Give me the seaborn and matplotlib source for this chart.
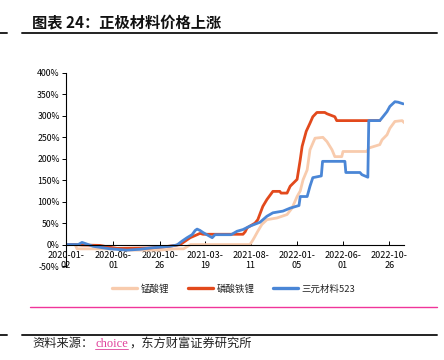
import matplotlib
matplotlib.use("Agg")
import matplotlib.pyplot as plt
import seaborn as sns
import pandas as pd
from matplotlib.lines import Line2D

sns.set_style("white")
plt.rcParams['font.family'] = ['Noto Sans CJK SC', 'DejaVu Sans']
plt.rcParams['axes.unicode_minus'] = False

# ---- data (percent change) ----
mn_dates = ["2020-01-02", "2020-01-31", "2020-02-06", "2020-06-12", "2020-07-14", "2020-10-27",
            "2020-12-14", "2021-01-10", "2021-02-01", "2021-08-09", "2021-08-18", "2021-08-25",
            "2021-09-03", "2021-09-16", "2021-10-02", "2021-11-03", "2021-12-05", "2021-12-21",
            "2022-01-06", "2022-01-16", "2022-01-25", "2022-02-07", "2022-02-16", "2022-03-04",
            "2022-03-29", "2022-04-11", "2022-04-27", "2022-05-06", "2022-05-28", "2022-06-01",
            "2022-08-16", "2022-08-22", "2022-09-26", "2022-10-03", "2022-10-19", "2022-10-28",
            "2022-11-13", "2022-12-06", "2022-12-13"]
mn_vals = [0, 0, -10, -10, -13, -13,
           -10, -10, 0, 0, 10, 19,
           31, 47, 58, 62, 70, 85,
           112, 125, 151, 174, 221, 248,
           250, 240, 221, 205, 205, 217,
           217, 225, 233, 244, 256, 271,
           287, 289, 284]

lfp_dates = ["2020-01-02", "2020-01-31", "2020-02-22", "2020-04-19", "2020-05-11", "2020-06-12",
             "2020-09-25", "2020-11-12", "2020-12-14", "2020-12-30", "2021-01-15", "2021-01-31",
             "2021-02-22", "2021-03-03", "2021-03-13", "2021-07-18", "2021-07-25", "2021-07-31",
             "2021-08-25", "2021-09-03", "2021-09-19", "2021-10-02", "2021-10-21", "2021-11-12",
             "2021-11-16", "2021-12-05", "2021-12-15", "2022-01-06", "2022-01-16", "2022-01-22",
             "2022-02-04", "2022-02-16", "2022-02-25", "2022-03-10", "2022-04-04", "2022-04-11",
             "2022-05-06", "2022-05-12", "2022-09-26"]
lfp_vals = [0, 0, -1, -2, -5, -9,
            -8, -5, -2, 0, 8, 16,
            23, 26, 24, 24, 30, 39,
            50, 58, 89, 105, 124, 124,
            120, 120, 136, 152, 198, 229,
            264, 283, 298, 308, 308, 305,
            298, 289, 289]

ncm_dates = ["2020-01-02", "2020-02-10", "2020-02-22", "2020-03-05", "2020-03-28", "2020-05-21",
             "2020-07-14", "2020-08-24", "2020-09-25", "2020-11-28", "2020-12-20", "2021-01-05",
             "2021-01-21", "2021-02-06", "2021-02-16", "2021-02-22", "2021-03-03", "2021-03-13",
             "2021-04-11", "2021-04-20", "2021-06-10", "2021-06-29", "2021-07-18", "2021-08-09",
             "2021-09-10", "2021-10-02", "2021-10-21", "2021-11-22", "2021-12-15", "2022-01-12",
             "2022-01-16", "2022-02-07", "2022-02-16", "2022-02-25", "2022-03-24", "2022-03-28",
             "2022-06-07", "2022-06-10", "2022-07-25", "2022-07-31", "2022-08-19", "2022-08-22",
             "2022-09-26", "2022-10-06", "2022-10-19", "2022-10-28", "2022-11-13", "2022-11-23",
             "2022-12-10"]
ncm_vals = [0, 0, 5, 2, -4, -10,
            -13, -11, -8, -4, -1, 8,
            16, 23, 33, 36, 33, 28,
            16, 23, 23, 31, 35, 43,
            52, 66, 74, 78, 85, 91,
            112, 112, 136, 156, 160, 194,
            194, 168, 168, 163, 157, 289,
            289, 298, 310, 322, 333, 332,
            328]

series_names = ["锰酸锂", "磷酸铁锂", "三元材料523"]
colors = ["#F8CBAD", "#E2491C", "#4A86D6"]

tick_dates = ["2020-01-02", "2020-06-01", "2020-10-26", "2021-03-19", "2021-08-11",
              "2022-01-05", "2022-06-01", "2022-10-26"]
y_ticks = [-50, 0, 50, 100, 150, 200, 250, 300, 350, 400]

# ---- figure ----
fig = plt.figure(figsize=(4.44, 3.6), dpi=100)
ax = fig.add_axes([66/444, 1-266/360, (404-66)/444, (266-73)/360])

all_data = [(mn_dates, mn_vals), (lfp_dates, lfp_vals), (ncm_dates, ncm_vals)]
for (d, v), name, c in zip(all_data, series_names, colors):
    df = pd.DataFrame({"date": pd.to_datetime(d), "value": v})
    sns.lineplot(data=df, x="date", y="value", ax=ax, color=c, lw=2.0,
                 label=name, estimator=None, legend=False)

ax.set_xlim(pd.Timestamp("2020-01-02"), pd.Timestamp("2022-12-12"))
ax.set_ylim(-50, 400)
ax.set_yticks(y_ticks)
ax.set_yticklabels([f"{t}%" for t in y_ticks])
td = pd.to_datetime(tick_dates)
ax.set_xticks(td)
ax.set_xticklabels([f"{t[:8]}\n{t[8:]}" for t in tick_dates], linespacing=1.75)
ax.set_xlabel("")
ax.set_ylabel("")

for s in ["top", "right"]:
    ax.spines[s].set_visible(False)
ax.spines["bottom"].set_position(("data", 0))
for s in ["left", "bottom"]:
    ax.spines[s].set_color("#000000")
    ax.spines[s].set_linewidth(0.8)
ax.tick_params(axis="y", direction="out", length=3, width=0.7, pad=1.5,
               labelsize=6.3, colors="#000000", left=True)
ax.tick_params(axis="x", direction="in", length=3, width=0.7, pad=4.5,
               labelsize=6.5, colors="#000000", bottom=True)
ax.grid(False)
ax.set_facecolor("none")

# legend
handles = [Line2D([0], [0], color=c, lw=2.4) for c in colors]
fig.legend(handles, series_names, loc="center", bbox_to_anchor=(234/444, 1-289/360),
           ncol=3, frameon=False, fontsize=6.8, handlelength=2.6, handletextpad=0.4,
           columnspacing=2.0)

# title and rules
fig.text(32/444, 1-22/360, "图表 24：正极材料价格上涨", fontsize=11, fontweight="bold",
         va="center", ha="left", color="#111111")
for yy in [33, 335]:
    fig.add_artist(Line2D([22/444, 437/444], [1-yy/360]*2, color="#222222", lw=1.4))
    fig.add_artist(Line2D([0, 7/444], [1-yy/360]*2, color="#222222", lw=1.4))
fig.add_artist(Line2D([30/444, 437/444], [1-307/360]*2, color="#F0359A", lw=1.0))

# source
fig.canvas.draw()
r = fig.canvas.get_renderer()
ys = 1-344/360
t1 = fig.text(32/444, ys, "资料来源：", fontsize=8.8, va="center", ha="left", color="#222222")
bb = t1.get_window_extent(r)
x2 = bb.x1 / fig.bbox.width + 2/444
t2 = fig.text(x2, ys, "choice", fontsize=9, va="center", ha="left", color="#E0409A",
              family=["Liberation Serif", "DejaVu Serif"])
bb2 = t2.get_window_extent(r)
fig.add_artist(Line2D([bb2.x0/fig.bbox.width, bb2.x1/fig.bbox.width],
                      [bb2.y0/fig.bbox.height + 0.002]*2, color="#E0409A", lw=0.6))
t3 = fig.text(bb2.x1 / fig.bbox.width + 1/444, ys, "，东方财富证券研究所", fontsize=8.8,
              va="center", ha="left", color="#222222")

fig.savefig("out.png", dpi=100, facecolor="white")
